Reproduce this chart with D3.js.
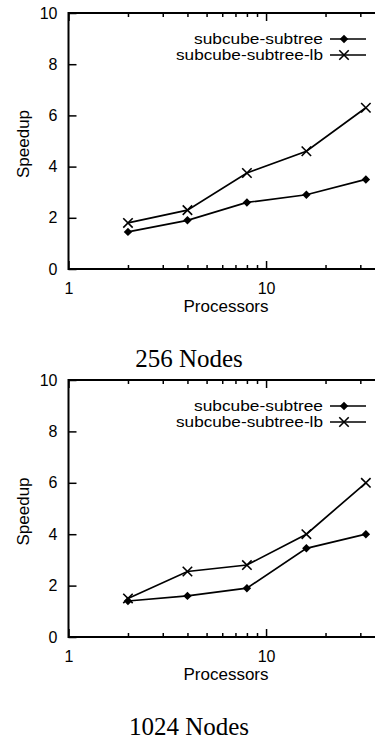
<!DOCTYPE html>
<html>
<head>
<meta charset="utf-8">
<script src="https://cdn.jsdelivr.net/npm/d3@7"></script>
<style>
  html, body { margin: 0; padding: 0; background: #fff; }
  svg { display: block; }
  .lbl { font-family: "Liberation Sans", Arial, sans-serif; fill: #000; }
  .ttl { font-family: "Liberation Serif", "Times New Roman", serif; fill: #000; }
</style>
</head>
<body>
<div id="chart"></div>
<script>
// data
const processors = [2, 4, 8, 16, 32];
const seriesNames = ['subcube-subtree', 'subcube-subtree-lb'];
const speedup256Subtree = [1.45, 1.9, 2.6, 2.9, 3.5];
const speedup256SubtreeLb = [1.8, 2.3, 3.75, 4.6, 6.3];
const speedup1024Subtree = [1.4, 1.6, 1.9, 3.45, 4.0];
const speedup1024SubtreeLb = [1.5, 2.55, 2.8, 4.0, 6.0];
const panelTitles = ['256 Nodes', '1024 Nodes'];
const yTicks = [0, 2, 4, 6, 8, 10];
const xMajorTicks = [1, 10];
const xMinorTicks = [2, 3, 4, 5, 6, 7, 8, 9, 20, 30];

const W = 375, H = 740;
const svg = d3.select('#chart').append('svg')
  .attr('width', W).attr('height', H);

const x = d3.scaleLog().domain([1, 40]).range([68.5, 385]);

function drawPanel(top, bottom, s1, s2, title) {
  const y = d3.scaleLinear().domain([0, 10]).range([bottom, top]);
  const g = svg.append('g');

  // frame
  g.append('rect')
    .attr('x', x(1)).attr('y', y(10))
    .attr('width', x(40) - x(1)).attr('height', y(0) - y(10))
    .attr('fill', 'none').attr('stroke', '#000').attr('stroke-width', 2);

  const styleAxis = sel => {
    sel.select('.domain').remove();
    sel.selectAll('line').attr('stroke', '#000').attr('stroke-width', 1.5);
    sel.selectAll('text').attr('class', 'lbl').attr('fill', '#000')
      .style('font-size', '16px');
  };

  // left axis
  g.append('g').attr('transform', `translate(${x(1)},0)`)
    .call(d3.axisLeft(y).tickValues(yTicks).tickSizeInner(-8).tickSizeOuter(0).tickPadding(11))
    .call(styleAxis);
  // right mirror ticks
  g.append('g').attr('transform', `translate(${x(40)},0)`)
    .call(d3.axisRight(y).tickValues(yTicks).tickSizeInner(-8).tickSizeOuter(0).tickFormat(''))
    .call(styleAxis);

  // bottom axis
  g.append('g').attr('transform', `translate(0,${y(0)})`)
    .call(d3.axisBottom(x).tickValues(xMajorTicks).tickFormat(d3.format('d'))
      .tickSizeInner(-8).tickSizeOuter(0).tickPadding(14))
    .call(styleAxis);
  g.append('g').attr('transform', `translate(0,${y(0)})`)
    .call(d3.axisBottom(x).tickValues(xMinorTicks).tickFormat('').tickSizeInner(-4).tickSizeOuter(0))
    .call(styleAxis);
  // top mirror ticks
  g.append('g').attr('transform', `translate(0,${y(10)})`)
    .call(d3.axisTop(x).tickValues(xMajorTicks).tickFormat('').tickSizeInner(-8).tickSizeOuter(0))
    .call(styleAxis);
  g.append('g').attr('transform', `translate(0,${y(10)})`)
    .call(d3.axisTop(x).tickValues(xMinorTicks).tickFormat('').tickSizeInner(-4).tickSizeOuter(0))
    .call(styleAxis);

  // axis titles
  g.append('text').attr('class', 'lbl')
    .attr('x', 226).attr('y', y(0) + 43)
    .attr('text-anchor', 'middle').style('font-size', '17px')
    .text('Processors');
  g.append('text').attr('class', 'lbl')
    .attr('transform', `translate(29,${(y(0) + y(10)) / 2 + 3}) rotate(-90)`)
    .attr('text-anchor', 'middle').style('font-size', '17px')
    .text('Speedup');

  const line = d3.line()
    .x((d, i) => x(processors[i]))
    .y(d => y(d));

  const diamond = d3.symbol(d3.symbolSquare, 36);
  const cross = d3.symbol(d3.symbolTimes, 60);

  // series 1: diamonds
  g.append('path').datum(s1)
    .attr('d', line).attr('fill', 'none')
    .attr('stroke', '#000').attr('stroke-width', 1.7);
  g.selectAll('.dia').data(s1).enter().append('path')
    .attr('class', 'dia')
    .attr('d', diamond)
    .attr('transform', (d, i) => `translate(${x(processors[i])},${y(d)}) rotate(45)`)
    .attr('fill', '#000');

  // series 2: crosses
  g.append('path').datum(s2)
    .attr('d', line).attr('fill', 'none')
    .attr('stroke', '#000').attr('stroke-width', 1.7);
  g.selectAll('.crs').data(s2).enter().append('path')
    .attr('class', 'crs')
    .attr('d', cross)
    .attr('transform', (d, i) => `translate(${x(processors[i])},${y(d)})`)
    .attr('fill', '#000').attr('stroke', '#000').attr('stroke-width', 1.6);

  // legend
  const legendWidths = [129, 147];
  const legend = g.append('g');
  seriesNames.forEach((name, i) => {
    const by = y(10) + 31 + i * 16;
    legend.append('text').attr('class', 'lbl')
      .attr('x', 323).attr('y', by)
      .attr('text-anchor', 'end').style('font-size', '14px')
      .attr('textLength', legendWidths[i]).attr('lengthAdjust', 'spacingAndGlyphs')
      .text(name);
    legend.append('line')
      .attr('x1', 330).attr('x2', 366)
      .attr('y1', by - 5).attr('y2', by - 5)
      .attr('stroke', '#000').attr('stroke-width', 1.4);
    legend.append('path')
      .attr('d', i === 0 ? diamond : cross)
      .attr('transform', `translate(344,${by - 5})` + (i === 0 ? ' rotate(45)' : ''))
      .attr('fill', '#000').attr('stroke', i === 0 ? 'none' : '#000').attr('stroke-width', 1.6);
  });

  // panel title
  g.append('text').attr('class', 'ttl')
    .attr('x', 189).attr('y', y(0) + 98)
    .attr('text-anchor', 'middle').style('font-size', '25px')
    .text(title);
}

drawPanel(13, 269, speedup256Subtree, speedup256SubtreeLb, panelTitles[0]);
drawPanel(380, 637, speedup1024Subtree, speedup1024SubtreeLb, panelTitles[1]);
</script>
</body>
</html>
